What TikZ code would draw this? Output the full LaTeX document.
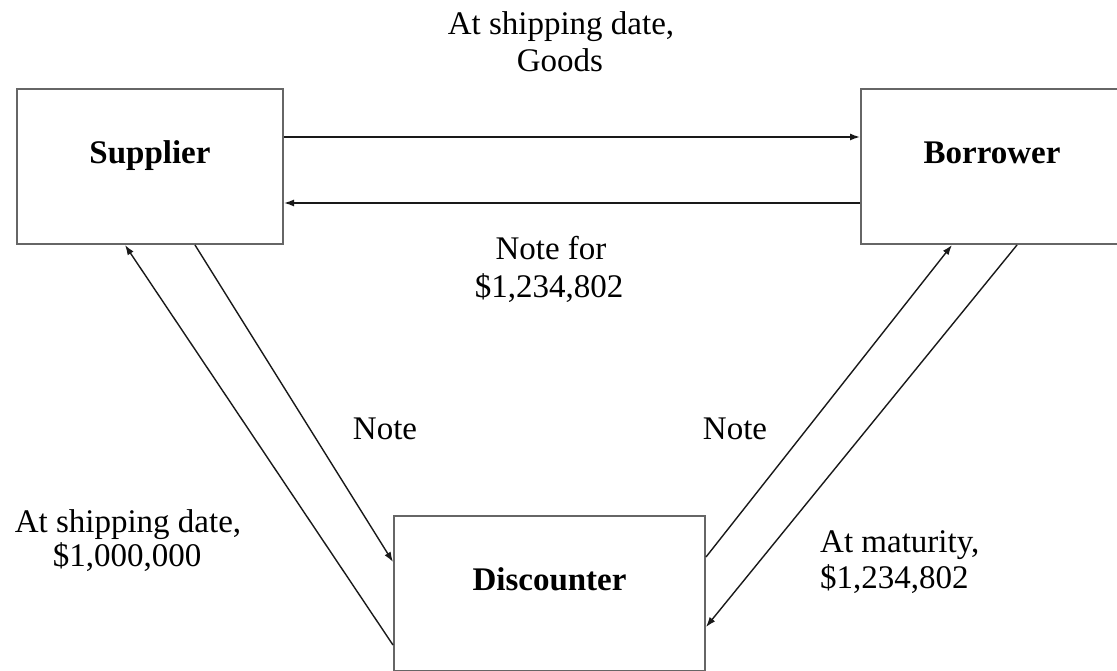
\documentclass[tikz,border=0pt]{standalone}
\usepackage{fontspec}
\setmainfont{Liberation Serif}
\usetikzlibrary{arrows.meta}
\tikzset{
  boxnode/.style={draw=black!60, line width=2pt, rectangle, inner sep=0pt},
  title/.style={font=\fontsize{33}{36}\selectfont\bfseries, anchor=base, inner sep=0pt},
  lbl/.style={font=\fontsize{33}{36}\selectfont, anchor=base, inner sep=0pt},
  lblw/.style={font=\fontsize{33}{36}\selectfont, anchor=base west, inner sep=0pt},
  flow/.style={draw=black!90, line width=1.4pt, -{Latex[length=10pt,width=7pt]}}
}
\begin{document}
\begin{tikzpicture}[x=1pt,y=-1pt]
\useasboundingbox (0,0) rectangle (1117,671);
\clip (0,0) rectangle (1117,671);
% boxes
\node[boxnode, minimum width=266pt, minimum height=155pt] (sup) at (150,166.5) {};
\node[boxnode, minimum width=262pt, minimum height=155pt] (bor) at (992,166.5) {};
\node[boxnode, minimum width=311pt, minimum height=155pt] (dis) at (549.5,593.5) {};
\node[title] (supt) at (150,164) {Supplier};
\node[title] (bort) at (992,164) {Borrower};
\node[title] (dist) at (549.5,590) {Discounter};
% connector end points
\coordinate (s1) at (sup.east |- 0,137);
\coordinate (b1) at (bor.west |- 0,137);
\coordinate (s2) at (sup.east |- 0,203);
\coordinate (b2) at (bor.west |- 0,203);
\coordinate (s3) at (125,0 |- sup.south);
\coordinate (d3) at (dis.west |- 0,645);
\coordinate (s4) at (195,0 |- sup.south);
\coordinate (d4) at (dis.west |- 0,562);
\coordinate (b5) at (952,0 |- bor.south);
\coordinate (d5) at (dis.east |- 0,557);
\coordinate (b6) at (1017,0 |- bor.south);
\coordinate (d6) at (dis.east |- 0,627);
% connectors
\draw[flow] (s1) -- (b1);
\draw[flow] (b2) -- (s2);
\draw[flow] (d3) -- (s3);
\draw[flow] (s4) -- (d4);
\draw[flow] (d5) -- (b5);
\draw[flow] (b6) -- (d6);
% labels
\node[lbl] (t1) at (561,35) {At shipping date,};
\node[lbl] (t2) at (560,72) {Goods};
\node[lbl] (n1) at (551,260) {Note for};
\node[lbl] (n2) at (549,298) {\$1,234,802};
\node[lbl] (nl) at (385,439) {Note};
\node[lbl] (nr) at (735,439) {Note};
\node[lbl] (l1) at (128,532) {At shipping date,};
\node[lbl] (l2) at (127,566) {\$1,000,000};
\node[lblw] (r1) at (820,552) {At maturity,};
\node[lblw] (r2) at (820,588) {\$1,234,802};
\end{tikzpicture}
\end{document}
